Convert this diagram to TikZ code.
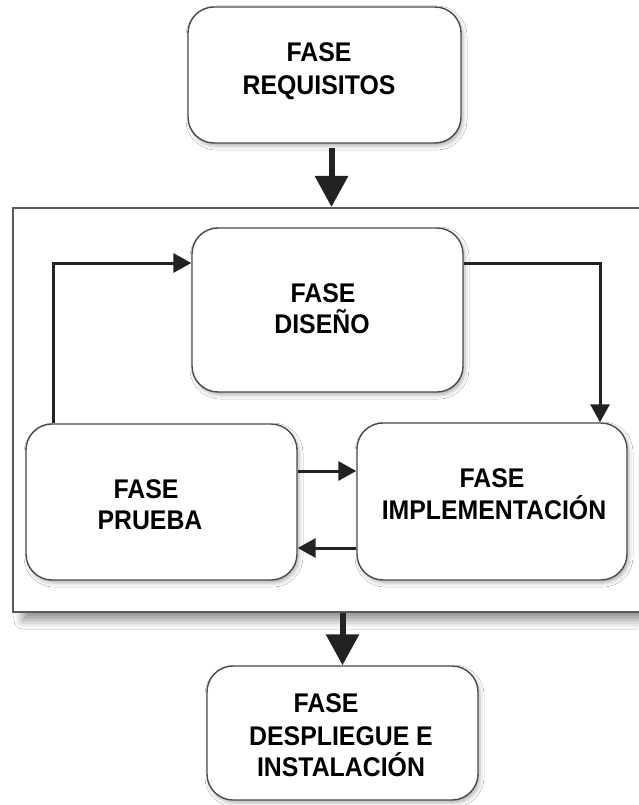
\documentclass[tikz,border=0pt]{standalone}
\usepackage{fontspec}
\newfontfamily\lblfont[FakeStretch=0.92]{Liberation Sans}
\usetikzlibrary{arrows.meta,shadows,shadows.blur}

\definecolor{edge}{HTML}{4A4A4A}
\definecolor{framec}{HTML}{5A5A5A}
\definecolor{ink}{HTML}{222222}

\tikzset{
  phase/.style={draw=edge, line width=1.4pt, fill=white, rounded corners=26pt,
    minimum width=#1, inner sep=0pt,
    blur shadow={shadow xshift=2pt, shadow yshift=-3pt, shadow blur radius=4pt, shadow opacity=30}},
  phase/.default=271pt,
  outer/.style={draw=framec, line width=2pt, fill=white, inner sep=0pt,
    blur shadow={shadow xshift=10pt, shadow yshift=-8pt, shadow blur radius=9pt, shadow opacity=45}},
  txt/.style={anchor=base, inner sep=0pt, text=black,
    font=\lblfont\bfseries\fontsize{27pt}{31pt}\selectfont},
  bigarrow/.style={draw=ink, line width=6pt, -{Triangle[width=32pt,length=31pt]}},
  flow/.style={draw=ink, line width=3pt, -{Triangle[width=19pt,length=18pt]}},
}

\begin{document}
\begin{tikzpicture}[x=1pt, y=-1pt]
  \useasboundingbox (0,0) rectangle (638,805);
  \fill[white] (0,0) rectangle (638,805);

  % enclosing frame for the iterative phases
  \node[outer, minimum width=637pt, minimum height=404pt] (frame) at (331.5,410) {};

  % phase boxes
  \node[phase=273pt, minimum height=136pt] (req) at (324.5,75) {};
  \node[phase=271pt, minimum height=164pt] (dis) at (327.5,310) {};
  \node[phase=271pt, minimum height=156pt] (pru) at (161.5,502) {};
  \node[phase=270pt, minimum height=157pt] (imp) at (492,501.5) {};
  \node[phase=271pt, minimum height=134pt] (dep) at (342.5,733) {};

  % labels
  \node[txt] (req1) at (319,62) {FASE};
  \node[txt] (req2) at (319,95) {REQUISITOS};
  \node[txt] (dis1) at (323,302) {FASE};
  \node[txt] (dis2) at (322,333) {DISEÑO};
  \node[txt] (pru1) at (146,498) {FASE};
  \node[txt] (pru2) at (150,529) {PRUEBA};
  \node[txt] (imp1) at (492,487) {FASE};
  \node[txt] (imp2) at (494,519) {IMPLEMENTACIÓN};
  \node[txt] (dep1) at (326,712) {FASE};
  \node[txt] (dep2) at (341,745) {DESPLIEGUE E};
  \node[txt] (dep3) at (341,776) {INSTALACIÓN};

  % main sequence arrows
  \draw[bigarrow] ([yshift=-4pt]frame.north |- req.south) -- (frame.north);
  \draw[bigarrow] (dep.north |- frame.south) -- (dep.north);

  % cycle inside the frame
  \coordinate (lp) at (53,263);
  \coordinate (rp) at (600,263);
  \coordinate (ya) at (327,471);
  \coordinate (yb) at (327,548);
  \draw[flow] (lp |- pru.north) -- (lp) -- (lp -| dis.west);
  \draw[flow] (rp -| dis.east) -- (rp) -- (rp |- imp.north);
  \draw[flow] (ya -| pru.east) -- (ya -| imp.west);
  \draw[flow] (yb -| imp.west) -- (yb -| pru.east);
\end{tikzpicture}
\end{document}
